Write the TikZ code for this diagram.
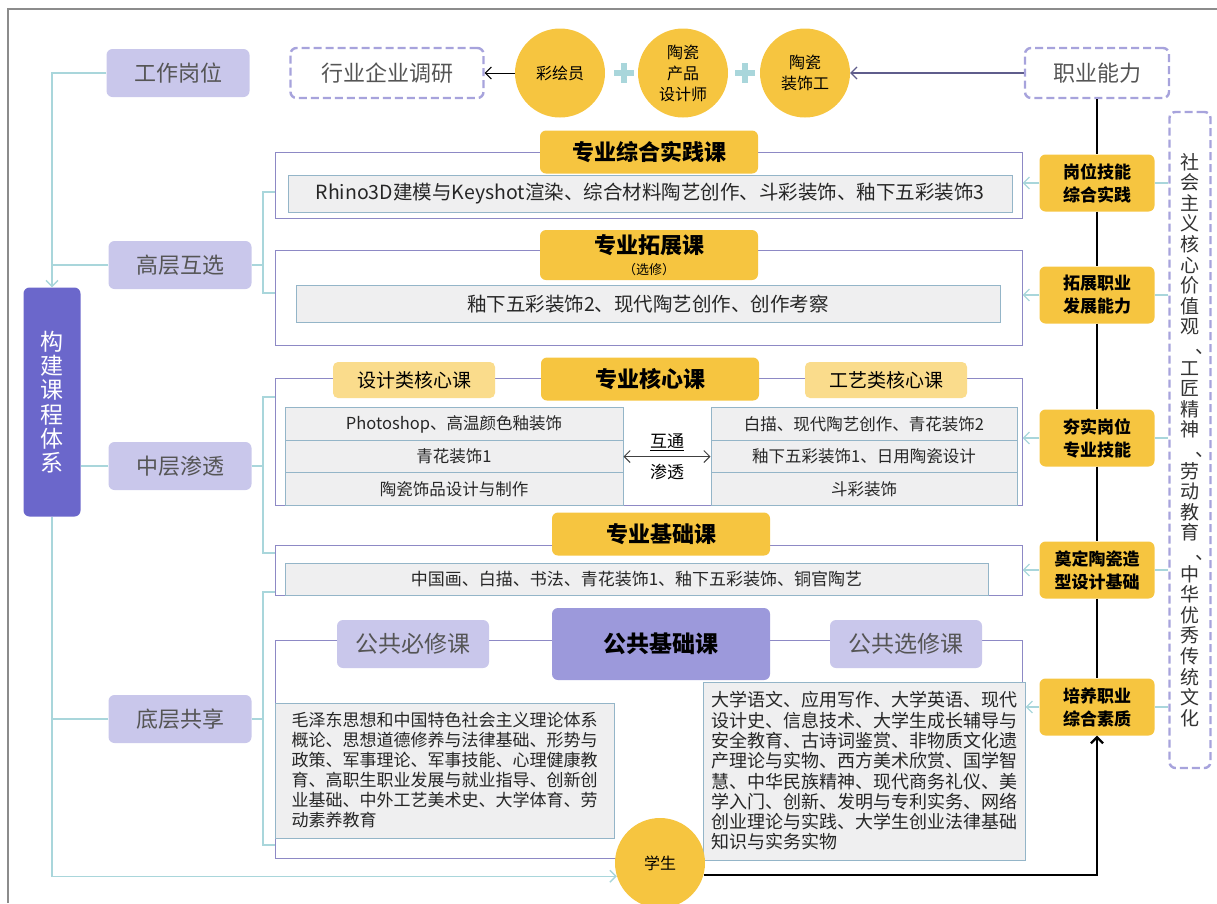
\documentclass[tikz,border=0pt]{standalone}
\usepackage{fontspec}
\setmainfont{Noto Sans CJK SC}
\usetikzlibrary{arrows.meta,shapes.geometric}
\definecolor{lav}{HTML}{C9C7EB}
\definecolor{lvtx}{HTML}{555555}
\definecolor{dsh}{HTML}{A7A3DC}
\definecolor{mor}{HTML}{6B67CB}
\definecolor{pubc}{HTML}{9C99DB}
\definecolor{yel}{HTML}{F6C540}
\definecolor{tea}{HTML}{A9D6DB}
\definecolor{frc}{HTML}{8D89C5}
\definecolor{gbf}{HTML}{EFEFF0}
\definecolor{gbd}{HTML}{94B5C8}
\definecolor{grp}{HTML}{5F5D8C}
% coma para texto vertical
\newcommand{\vdun}{\makebox[1em][l]{\hspace{0.78em}\raisebox{0.08em}{、}}}

\begin{document}
\begin{tikzpicture}[x=1pt,y=-1pt]
% estilos separados
\tikzset{
  lvl/.style={rounded corners=6pt, fill=lav, text=lvtx, minimum width=143pt, minimum height=48pt, font=\fontsize{22}{26}\selectfont},
  dbox/.style={rounded corners=6pt, draw=dsh, line width=2.4pt, dash pattern=on 8pt off 4pt, fill=white, minimum height=50pt, text=lvtx, font=\fontsize{22}{26}\selectfont},
  job/.style={ellipse, fill=yel, minimum width=90pt, minimum height=89pt, inner sep=0pt, align=center, font=\fontsize{16}{21}\selectfont},
  ttl/.style={rounded corners=6pt, fill=yel, minimum width=218pt, minimum height=43pt, align=center, font=\bfseries\fontsize{22}{24}\selectfont},
  sub/.style={rounded corners=5pt, fill=yel!60!white, minimum width=162pt, minimum height=36pt, font=\fontsize{19}{22}\selectfont},
  pub/.style={rounded corners=6pt, fill=lav, text=lvtx, minimum width=152pt, minimum height=48pt, font=\fontsize{23}{26}\selectfont},
  frm/.style={draw=frc, line width=1pt, fill=white, inner sep=0pt},
  crs/.style={draw=gbd, fill=gbf, line width=1pt, inner sep=0pt, text=black!85},
  aim/.style={rounded corners=6pt, fill=yel, minimum width=115pt, minimum height=57pt, align=center, font=\bfseries\fontsize{17}{23}\selectfont},
  tl/.style={draw=tea, line width=1.3pt},
  arr/.style={-{Straight Barb[length=6pt,width=12pt]}}
}

\useasboundingbox (0,0) rectangle (1217,903);
\draw[draw=gray!90, line width=2pt] (8,903) -- (8,9) -- (1217,9);

% fila superior
\node[lvl] (gz) at (178,73) {工作岗位};
\node[dbox, minimum width=193pt] (hy) at (387,73) {行业企业调研};
\node[job] (cy) at (560,73) {彩绘员};
\node[job] (ts) at (683,73) {陶瓷\\产品\\设计师};
\node[job] (tz) at (805,73) {陶瓷\\装饰工};
\node[dbox, minimum width=144pt] (zy) at (1097,73) {职业能力};
\foreach \x in {624,745}
  \draw[draw=tea, line width=5.5pt] (\x-10,73) -- (\x+10,73) (\x,63) -- (\x,83);
\draw[arr, line width=1pt] (cy.west) -- (hy.east);
\draw[arr, draw=grp, line width=1.2pt] (zy.west) -- (tz.east);

% niveles
\node[rounded corners=6pt, fill=mor, text=white, minimum width=57pt, minimum height=229pt, align=center,
  font=\fontsize{23}{24.3}\selectfont] (gj) at (52,402) {构\\建\\课\\程\\体\\系};
\node[lvl] (gc) at (180,265) {高层互选};
\node[lvl] (gm) at (180,466) {中层渗透};
\node[lvl] (gd) at (180,719) {底层共享};

% cursos
\node[frm, minimum width=747pt, minimum height=66pt] (f1) at (648.5,185) {};
\node[crs, minimum width=724pt, minimum height=37pt, font=\fontsize{19.5}{22}\selectfont] (c1) at (650,194)
  {Rhino3D建模与Keyshot渲染、综合材料陶艺创作、斗彩装饰、釉下五彩装饰3};
\node[ttl] (t1) at (649,152) {专业综合实践课};

\node[frm, minimum width=747pt, minimum height=95pt] (f2) at (648.5,297.5) {};
\node[crs, minimum width=704pt, minimum height=37pt, font=\fontsize{19.5}{22}\selectfont] (c2) at (648,304)
  {釉下五彩装饰2、现代陶艺创作、创作考察};
\node[ttl, minimum height=50pt] (t2) at (649,255) {专业拓展课\\[-3pt]{\mdseries\fontsize{13}{15}\selectfont （选修）}};

\node[frm, minimum width=747pt, minimum height=127pt] (f3) at (648.5,441.5) {};
\foreach \n/\y/\s in {l1/424/{Photoshop、高温颜色釉装饰}, l2/456.5/{青花装饰1}, l3/489/{陶瓷饰品设计与制作}}
  \node[crs, minimum width=338pt, minimum height=32.4pt, font=\fontsize{16.5}{20}\selectfont] (\n) at (454,\y) {\s};
\foreach \n/\y/\s in {r1/424/{白描、现代陶艺创作、青花装饰2}, r2/456.5/{釉下五彩装饰1、日用陶瓷设计}, r3/489/{斗彩装饰}}
  \node[crs, minimum width=306pt, minimum height=32.4pt, font=\fontsize{16.5}{20}\selectfont] (\n) at (864,\y) {\s};
\draw[{Straight Barb[length=6pt,width=12pt]}-{Straight Barb[length=6pt,width=12pt]}, draw=black!75, line width=1pt] (l2.east) -- (r2.west);
\node[font=\fontsize{17}{20}\selectfont] (ht) at (667,442) {\underline{互通}};
\node[font=\fontsize{17}{20}\selectfont] (st) at (667,472) {渗透};
\node[ttl] (t3) at (650,379) {专业核心课};
\node[sub] (s1) at (414,380) {设计类核心课};
\node[sub] (s2) at (886,380) {工艺类核心课};

\node[frm, minimum width=747pt, minimum height=50pt] (f4) at (648.5,570) {};
\node[crs, minimum width=703pt, minimum height=32pt, font=\fontsize{17}{20}\selectfont] (c4) at (636.5,579)
  {中国画、白描、书法、青花装饰1、釉下五彩装饰、铜官陶艺};
\node[ttl] (t4) at (661,534) {专业基础课};

\node[frm, minimum width=747pt, minimum height=218pt] (f5) at (648.5,749) {};
\node[crs, minimum width=339pt, minimum height=135pt, align=left, font=\fontsize{17}{20}\selectfont] (q1) at (444.5,770.5)
  {毛泽东思想和中国特色社会主义理论体系\\概论、思想道德修养与法律基础、形势与\\政策、军事理论、军事技能、心理健康教\\育、高职生职业发展与就业指导、创新创\\业基础、中外工艺美术史、大学体育、劳\\动素养教育};
\node[crs, minimum width=322pt, minimum height=178pt, align=left, font=\fontsize{18}{20.3}\selectfont] (q2) at (864,771)
  {大学语文、应用写作、大学英语、现代\\设计史、信息技术、大学生成长辅导与\\安全教育、古诗词鉴赏、非物质文化遗\\产理论与实物、西方美术欣赏、国学智\\慧、中华民族精神、现代商务礼仪、美\\学入门、创新、发明与专利实务、网络\\创业理论与实践、大学生创业法律基础\\知识与实务实物};
\node[ttl, fill=pubc, minimum height=72pt, font=\bfseries\fontsize{23}{26}\selectfont] (t5) at (661,644) {公共基础课};
\node[pub] (p1) at (413,644) {公共必修课};
\node[pub] (p2) at (906,644) {公共选修课};

\node[job, minimum width=90pt, minimum height=90pt] (xs) at (660,863) {学生};

% objetivos
\node[aim] (b1) at (1097,183) {岗位技能\\综合实践};
\node[aim] (b2) at (1097,295) {拓展职业\\发展能力};
\node[aim] (b3) at (1097,438) {夯实岗位\\专业技能};
\node[aim] (b4) at (1097,570) {奠定陶瓷造\\型设计基础};
\node[aim] (b5) at (1097,707) {培养职业\\综合素质};
\node[dbox, minimum width=41pt, minimum height=656pt, inner sep=0pt, align=center, text=black!80,
  font=\fontsize{19}{20.6}\selectfont] (sv) at (1190,440)
  {社\\会\\主\\义\\核\\心\\价\\值\\观\\\vdun\\工\\匠\\精\\神\\\vdun\\劳\\动\\教\\育\\\vdun\\中\\华\\优\\秀\\传\\统\\文\\化};

% conectores
\draw[tl, arr] (gz.west) -| (gj.north);
\draw[tl] (gc.west) -- (gc.west -| gj.north);
\draw[tl] (gm.west) -- (gm.west -| gj.east);
\draw[tl] (gd.west) -- (gd.west -| gj.south);
\draw[tl, arr] (gj.south) |- (xs.197);

\coordinate (bx) at (263,0);
\draw[tl] (gc.east) -- (gc.east -| bx);
\draw[tl] (gm.east) -- (gm.east -| bx);
\draw[tl] (gd.east) -- (gd.east -| bx);
\draw[tl] (275,192) -- (263,192) -- (263,293) -- (275,293);
\draw[tl] (275,397) -- (263,397) -- (263,553) -- (275,553);
\draw[tl] (275,592) -- (263,592) -- (263,845) -- (275,845);

\foreach \b/\f in {b1/f1, b2/f2, b3/f3, b4/f4, b5/q2} {
  \draw[tl, arr] (\b.west) -- (\b.west -| \f.east);
  \draw[tl] (\b.east) -- (\b.east -| sv.west);
}
\draw[line width=1.5pt] (zy.south) -- (b1.north) (b1.south) -- (b2.north) (b2.south) -- (b3.north)
  (b3.south) -- (b4.north) (b4.south) -- (b5.north);
\draw[arr, line width=2.2pt] (xs.-15) -| (b5.south);
\end{tikzpicture}
\end{document}
